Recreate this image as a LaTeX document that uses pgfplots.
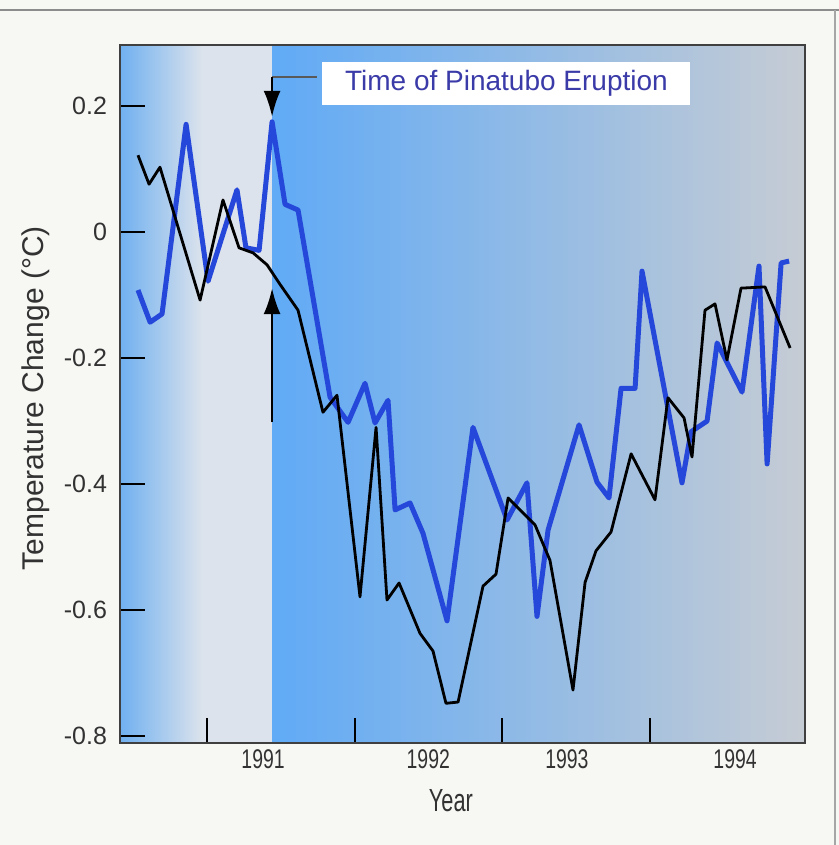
\documentclass[border=0pt]{standalone}
\usepackage{fontspec}
\setmainfont{Liberation Sans}
\usepackage{pgfplots}
\usepackage{pgfplotstable}
\pgfplotsset{compat=1.18}
\usetikzlibrary{arrows.meta}

\definecolor{lineblue}{RGB}{38,72,218}
\definecolor{leftblue}{RGB}{112,176,240}
\definecolor{paleleft}{RGB}{220,227,236}
\definecolor{rightblue}{RGB}{96,170,246}
\definecolor{midblue}{RGB}{150,192,234}
\definecolor{rightgray}{RGB}{198,204,212}
\definecolor{boxtext}{RGB}{58,58,168}
\definecolor{tickgray}{RGB}{50,50,50}
\definecolor{pagebg}{RGB}{247,247,243}

% satellite-based (blue) and surface (black) temperature anomalies
\pgfplotstableread{
year val
1990.532 -0.092
1990.614 -0.143
1990.695 -0.130
1990.858 0.171
1991.007 -0.078
1991.203 0.067
1991.264 -0.025
1991.353 -0.029
1991.441 0.175
1991.529 0.044
1991.617 0.035
1991.834 -0.262
1991.956 -0.302
1992.071 -0.240
1992.139 -0.303
1992.227 -0.267
1992.275 -0.441
1992.376 -0.430
1992.464 -0.478
1992.627 -0.617
1992.803 -0.310
1993.034 -0.457
1993.169 -0.398
1993.237 -0.610
1993.312 -0.473
1993.522 -0.306
1993.644 -0.397
1993.725 -0.422
1993.807 -0.248
1993.902 -0.248
1993.949 -0.062
1994.220 -0.398
1994.281 -0.317
1994.390 -0.300
1994.458 -0.176
1994.627 -0.254
1994.742 -0.054
1994.797 -0.368
1994.892 -0.049
1994.946 -0.046
}\bluedata

\pgfplotstableread{
year val
1990.532 0.122
1990.607 0.076
1990.681 0.103
1990.953 -0.108
1991.108 0.051
1991.217 -0.025
1991.312 -0.033
1991.407 -0.052
1991.495 -0.083
1991.617 -0.124
1991.786 -0.286
1991.881 -0.259
1992.037 -0.579
1992.146 -0.310
1992.220 -0.584
1992.302 -0.557
1992.444 -0.637
1992.532 -0.665
1992.620 -0.748
1992.702 -0.746
1992.871 -0.562
1992.959 -0.543
1993.041 -0.422
1993.224 -0.465
1993.325 -0.521
1993.481 -0.727
1993.563 -0.556
1993.637 -0.506
1993.739 -0.476
1993.875 -0.352
1994.037 -0.425
1994.125 -0.263
1994.234 -0.295
1994.288 -0.357
1994.376 -0.124
1994.444 -0.114
1994.525 -0.203
1994.620 -0.089
1994.783 -0.087
1994.953 -0.184
}\blackdata

\newcommand{\nx}[1]{\scalebox{0.72}[1]{#1}}

\begin{document}
\begin{tikzpicture}
\path[use as bounding box, fill=pagebg] (-60pt,-51pt) rectangle (359.5pt,371.5pt);
\draw[black!45, line width=0.8pt] (-60pt,366.5pt) -- (359.5pt,366.5pt);
\draw[black!35, line width=0.8pt] (357.5pt,-51pt) -- (357.5pt,366.5pt);
\begin{axis}[
    at={(0,0)}, anchor=south west,
    scale only axis, width=342.5pt, height=349pt,
    xmin=1990.41, xmax=1995.054, ymin=-0.811, ymax=0.297,
    axis on top,
    axis line style={draw=black!75, line width=1pt},
    tick align=inside, xtick pos=left, ytick pos=left,
    major tick length=12.5pt,
    tick style={black, line width=1pt},
    xtick={1991,1992,1993,1994}, xticklabels={},
    extra x ticks={1991.38,1992.5,1993.44,1994.58},
    extra x tick labels={\nx{1991},\nx{1992},\nx{1993},\nx{1994}},
    extra x tick style={major tick length=0pt},
    ytick={-0.8,-0.6,-0.4,-0.2,0,0.2},
    yticklabels={-0.8,-0.6,-0.4,-0.2,0,0.2},
    ticklabel style={text=tickgray},
    xticklabel style={font=\fontsize{13.5}{15}\selectfont},
    yticklabel style={font=\fontsize{12.5}{14}\selectfont, xshift=-3pt},
    xlabel={\scalebox{0.68}[1]{Year}},
    ylabel={Temperature Change (°C)},
    xlabel style={at={(axis description cs:0.483,-0.082)}, anchor=center, font=\fontsize{16}{18}\selectfont, text=tickgray},
    ylabel style={at={(axis description cs:-0.123,0.494)}, anchor=center, font=\fontsize{15}{17}\selectfont, text=tickgray},
]
% background bands: before and after the eruption
\shade[left color=leftblue, right color=paleleft] (axis cs:1990.41,-0.811) rectangle (axis cs:1990.97,0.297);
\fill[paleleft] (axis cs:1990.97,-0.811) rectangle (axis cs:1991.441,0.297);
\shade[left color=rightblue, middle color=midblue, right color=rightgray] (axis cs:1991.441,-0.811) rectangle (axis cs:1995.054,0.297);

\addplot[lineblue, line width=2.5pt, line join=round] table {\bluedata};
\addplot[black, line width=1.4pt, line join=round] table {\blackdata};

% eruption marker
\draw[black!65, line width=1pt] (axis cs:1991.441,0.246) -- (axis cs:1991.745,0.246);
\draw[black, line width=1.2pt, -{Latex[length=13pt,width=8.5pt]}] (axis cs:1991.441,0.246) -- (axis cs:1991.441,0.183);
\draw[black, line width=1.2pt, -{Latex[length=13pt,width=8.5pt]}] (axis cs:1991.441,-0.302) -- (axis cs:1991.441,-0.089);
\node[fill=white, text=boxtext, minimum width=184pt, minimum height=21.5pt, inner sep=0pt,
      font=\fontsize{14}{16}\selectfont] at (axis cs:1993.03,0.236) {Time of Pinatubo Eruption};
\end{axis}
\end{tikzpicture}
\end{document}
